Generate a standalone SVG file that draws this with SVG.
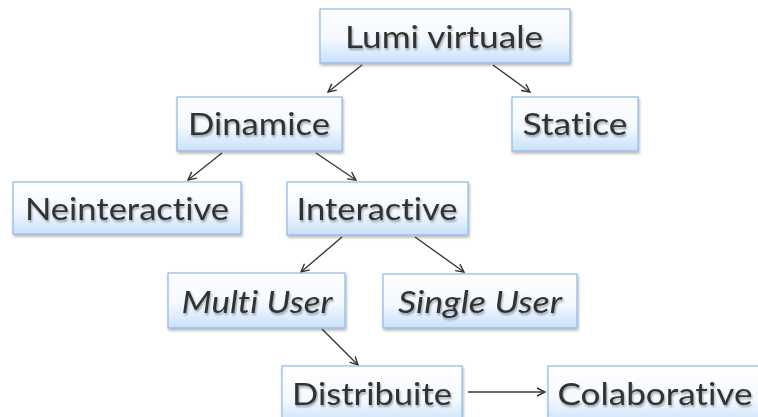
<svg xmlns="http://www.w3.org/2000/svg" width="758" height="417" viewBox="0 0 758 417">
<defs>
<linearGradient id="g" x1="0" y1="0" x2="0" y2="1">
<stop offset="0" stop-color="#ffffff"/>
<stop offset="0.55" stop-color="#f4f9ff"/>
<stop offset="1" stop-color="#c9e1fb"/>
</linearGradient>
<filter id="sh" x="-10%" y="-10%" width="130%" height="140%">
<feGaussianBlur in="SourceAlpha" stdDeviation="1.5"/>
<feOffset dx="1" dy="2" result="b"/>
<feComponentTransfer><feFuncA type="linear" slope="0.3"/></feComponentTransfer>
<feMerge><feMergeNode/><feMergeNode in="SourceGraphic"/></feMerge>
</filter>
<filter id="ts" x="-5%" y="-20%" width="110%" height="150%">
<feGaussianBlur in="SourceAlpha" stdDeviation="1"/>
<feOffset dx="1" dy="1.5"/>
<feComponentTransfer><feFuncA type="linear" slope="0.35"/></feComponentTransfer>
<feMerge><feMergeNode/><feMergeNode in="SourceGraphic"/></feMerge>
</filter>
<marker id="ah" markerWidth="10" markerHeight="10" refX="9" refY="5" orient="auto" markerUnits="userSpaceOnUse">
<path d="M1,1 L9,5 L1,9" fill="none" stroke="#333" stroke-width="1.4"/>
</marker>
</defs>
<style>
.box{fill:url(#g);stroke:#8db8ea;stroke-width:1.2;filter:url(#sh)}
.t{font-family:Lato,"Open Sans","Liberation Sans",sans-serif;font-size:31px;fill:#333333;text-anchor:middle;filter:url(#ts);font-variant-ligatures:none;font-feature-settings:"liga" 0}
.i{font-style:italic}
.c{stroke:#3a3a3a;stroke-width:1.4;fill:none;marker-end:url(#ah)}
</style>
<rect width="758" height="417" fill="#ffffff"/>
<g id="connectors">
<line class="c" x1="362" y1="65" x2="328" y2="92"/>
<line class="c" x1="493" y1="65" x2="530" y2="92"/>
<line class="c" x1="222" y1="153" x2="188" y2="180"/>
<line class="c" x1="316" y1="153" x2="356" y2="180"/>
<line class="c" x1="342" y1="237" x2="301" y2="272"/>
<line class="c" x1="415" y1="237" x2="464" y2="272"/>
<line class="c" x1="322" y1="329" x2="358" y2="365"/>
<line class="c" x1="468" y1="392" x2="545" y2="392"/>
</g>
<g id="lumi-virtuale">
<rect class="box" x="320" y="9" width="250" height="54"/>
<text class="t" x="444" y="48" textLength="198" lengthAdjust="spacingAndGlyphs">Lumi virtuale</text>
</g>
<g id="dinamice">
<rect class="box" x="177" y="97" width="165" height="54"/>
<text class="t" x="259" y="135" textLength="142" lengthAdjust="spacingAndGlyphs">Dinamice</text>
</g>
<g id="statice">
<rect class="box" x="512" y="97" width="126" height="54"/>
<text class="t" x="575" y="135" textLength="105" lengthAdjust="spacingAndGlyphs">Statice</text>
</g>
<g id="neinteractive">
<rect class="box" x="13" y="182" width="228" height="52"/>
<text class="t" x="127" y="220" textLength="204" lengthAdjust="spacingAndGlyphs">Neinteractive</text>
</g>
<g id="interactive">
<rect class="box" x="287" y="182" width="181" height="53"/>
<text class="t" x="377" y="220" textLength="161" lengthAdjust="spacingAndGlyphs">Interactive</text>
</g>
<g id="multi-user">
<rect class="box" x="168" y="273" width="177" height="55"/>
<text class="t i" x="257" y="313" textLength="151" lengthAdjust="spacingAndGlyphs">Multi User</text>
</g>
<g id="single-user">
<rect class="box" x="383" y="274" width="194" height="54"/>
<text class="t i" x="480" y="313" textLength="164" lengthAdjust="spacingAndGlyphs">Single User</text>
</g>
<g id="distribuite">
<rect class="box" x="282" y="366" width="180" height="60"/>
<text class="t" x="372" y="405" textLength="160" lengthAdjust="spacingAndGlyphs">Distribuite</text>
</g>
<g id="colaborative">
<rect class="box" x="548" y="366" width="220" height="60"/>
<text class="t" x="655" y="405" textLength="195" lengthAdjust="spacingAndGlyphs">Colaborative</text>
</g>
</svg>
